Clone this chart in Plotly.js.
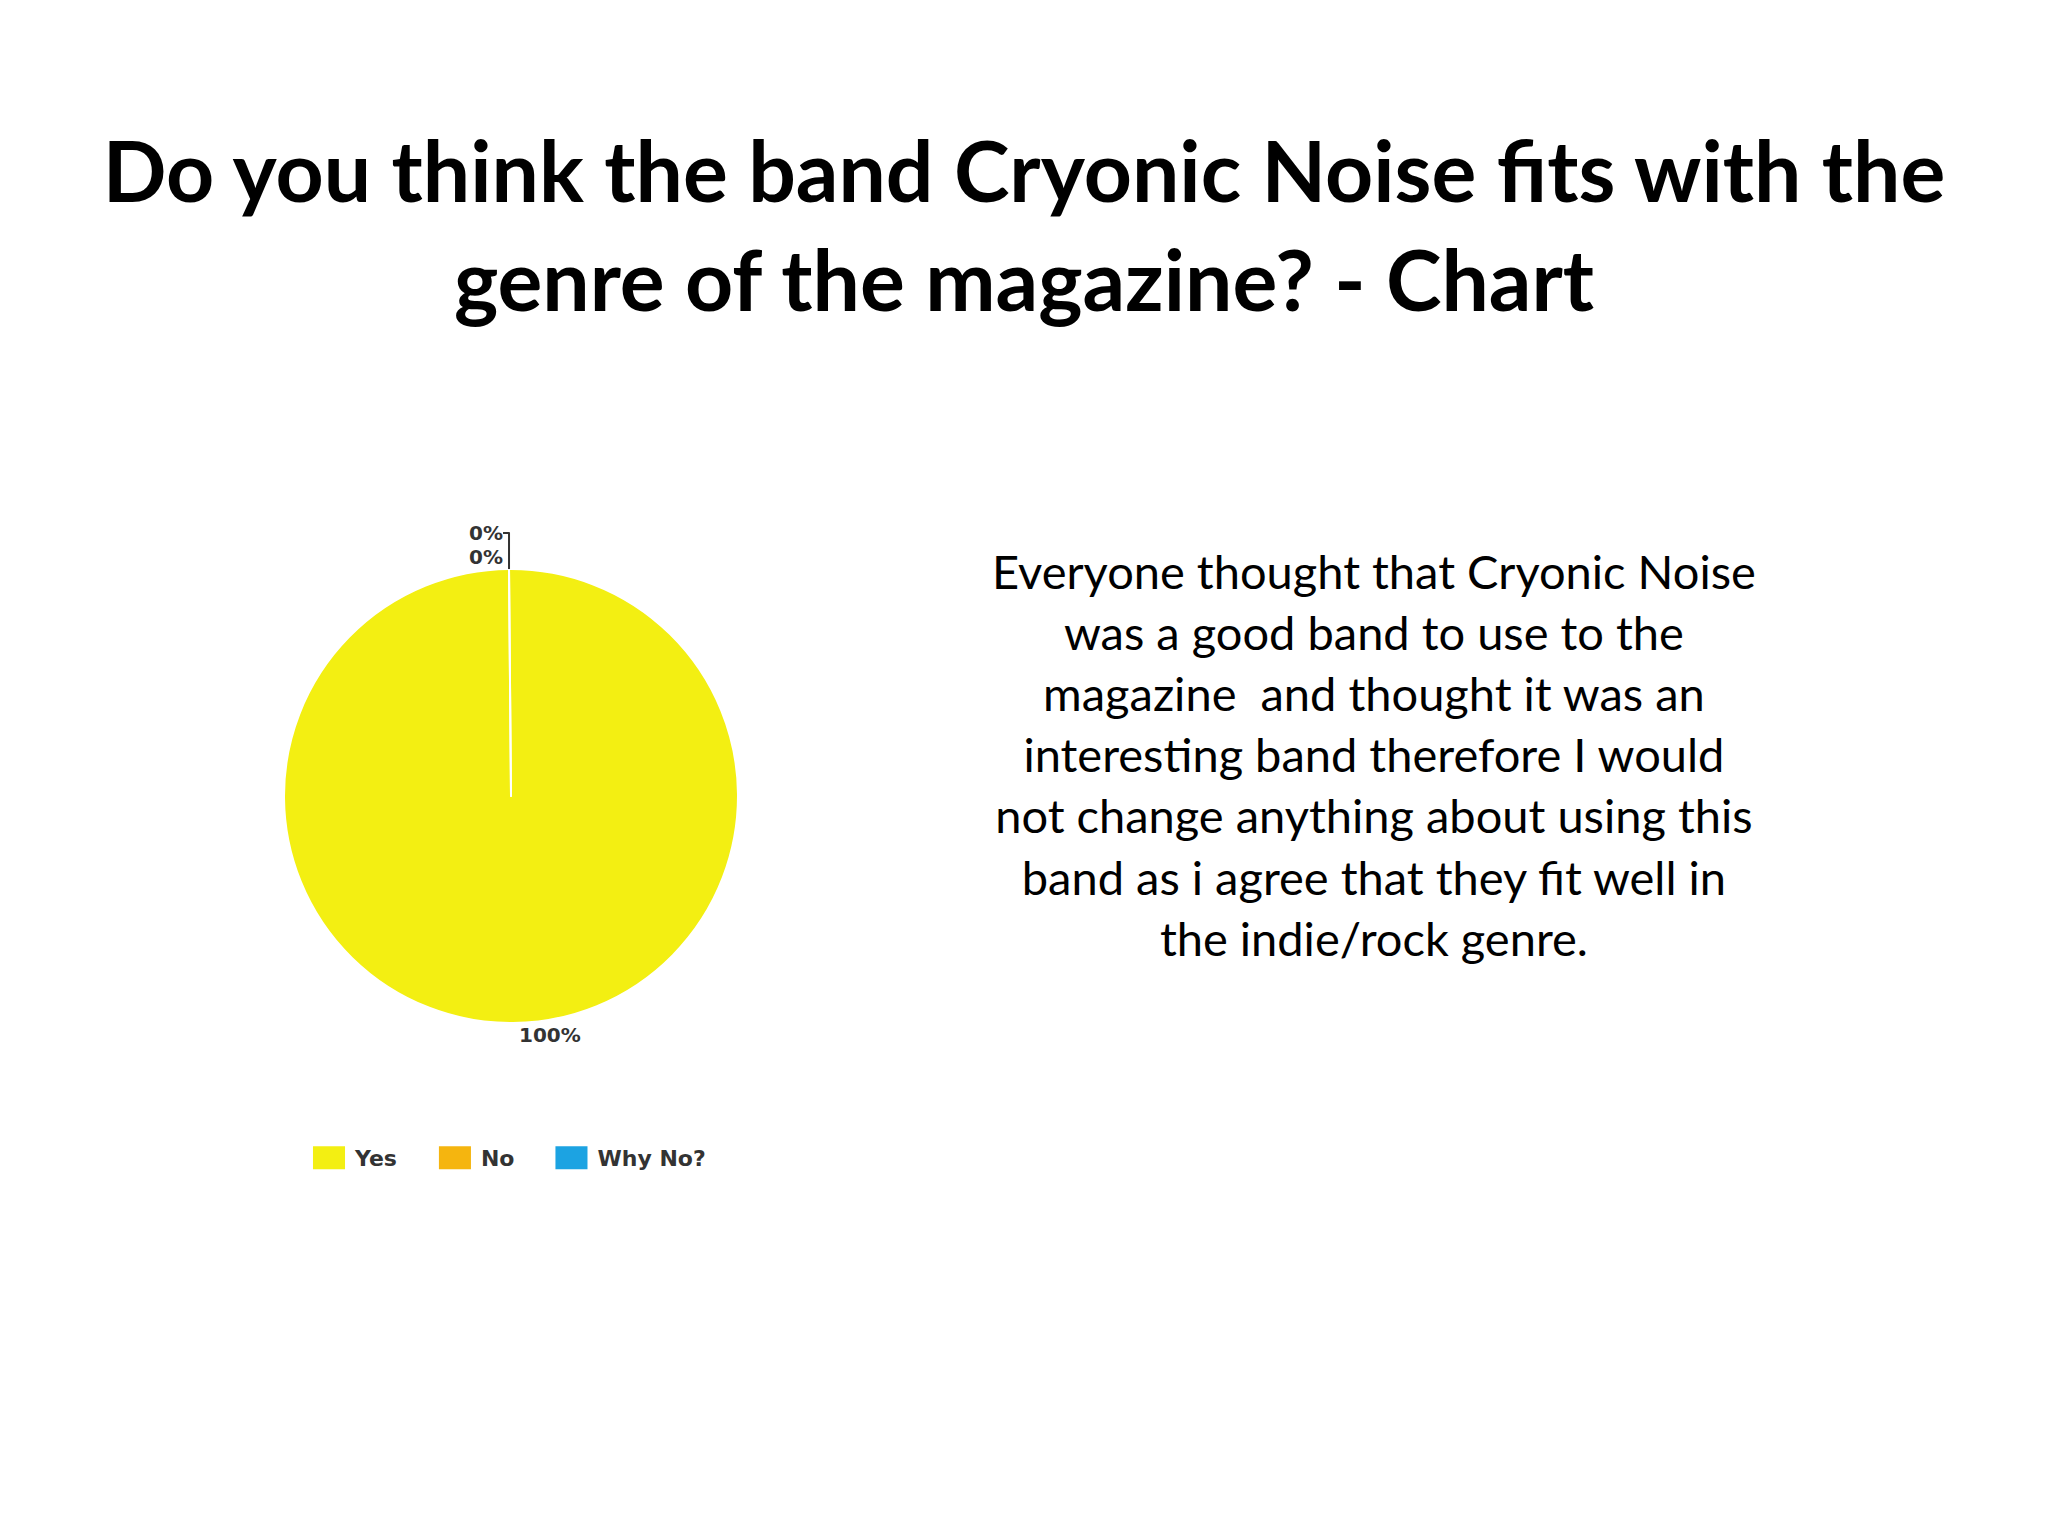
<!DOCTYPE html>
<html>
<head>
<meta charset="utf-8">
<script src="https://cdn.plot.ly/plotly-3.0.1.min.js"></script>
<style>html,body{margin:0;padding:0;background:#fff;}#chart{width:2048px;height:1536px;}</style>
</head>
<body>
<div id="chart"></div>
<script>
const categories = ["Yes", "No", "Why No?"];
const values = [100, 0, 0];
const sliceColors = ["#F3EF12", "#F5B50F", "#1CA3E2"];
const titleLines = ["Do you think the band Cryonic Noise fits with the", "genre of the magazine? - Chart"];
const bodyLines = [
  "Everyone thought that Cryonic Noise",
  "was a good band to use to the",
  "magazine\u00a0\u00a0and thought it was an",
  "interesting band therefore I would",
  "not change anything about using this",
  "band as i agree that they fit well in",
  "the indie/rock genre."
];

const W = 2048, H = 1536;
const px = x => x / W;
const py = y => 1 - y / H;

const trace = {
  type: 'pie',
  labels: categories,
  values: values,
  marker: {colors: sliceColors, line: {color: '#ffffff', width: 2}},
  textinfo: 'percent',
  texttemplate: '%{percent:.0%}',
  textposition: 'outside',
  textfont: {family: 'DejaVu Sans, sans-serif', size: 20, color: '#333333', weight: 'bold'},
  sort: false,
  direction: 'clockwise',
  rotation: -0.5,
  domain: {x: [px(511 - 227), px(511 + 227)], y: [py(796 + 227), py(796 - 227)]},
  hoverinfo: 'label+percent'
};

const layout = {
  width: W, height: H,
  margin: {l: 0, r: 0, t: 0, b: 0},
  paper_bgcolor: '#ffffff',
  plot_bgcolor: '#ffffff',
  title: {
    text: titleLines.join('<br>'),
    font: {family: 'Lato, sans-serif', size: 84, color: '#000', weight: 'bold'},
    x: 0.5, xanchor: 'center', xref: 'paper',
    y: py(202), yanchor: 'middle', yref: 'paper'
  },
  showlegend: true,
  legend: {
    orientation: 'h',
    x: px(277), xanchor: 'left',
    y: py(1158), yanchor: 'middle',
    itemwidth: 68,
    font: {family: 'DejaVu Sans, sans-serif', size: 22, color: '#333333', weight: 'bold'},
    bgcolor: 'rgba(0,0,0,0)'
  },
  annotations: [{
    text: bodyLines.join('<br>'), xref: 'paper', yref: 'paper',
    x: px(1374), y: py(755),
    xanchor: 'center', yanchor: 'middle', align: 'center', showarrow: false,
    font: {family: 'Lato, sans-serif', size: 47, color: '#000'}
  }]
};

Plotly.newPlot('chart', [trace], layout, {staticPlot: true}).then(function () {
  // enlarge the legend swatches to the wide rectangles of the reference
  document.querySelectorAll('#chart path.legendpie').forEach(function (p) {
    const base = p.getAttribute('transform') || '';
    p.setAttribute('transform', base + ' translate(13,0) scale(2.67,1.92)');
    p.style.strokeWidth = '0';
  });
});
</script>
</body>
</html>
